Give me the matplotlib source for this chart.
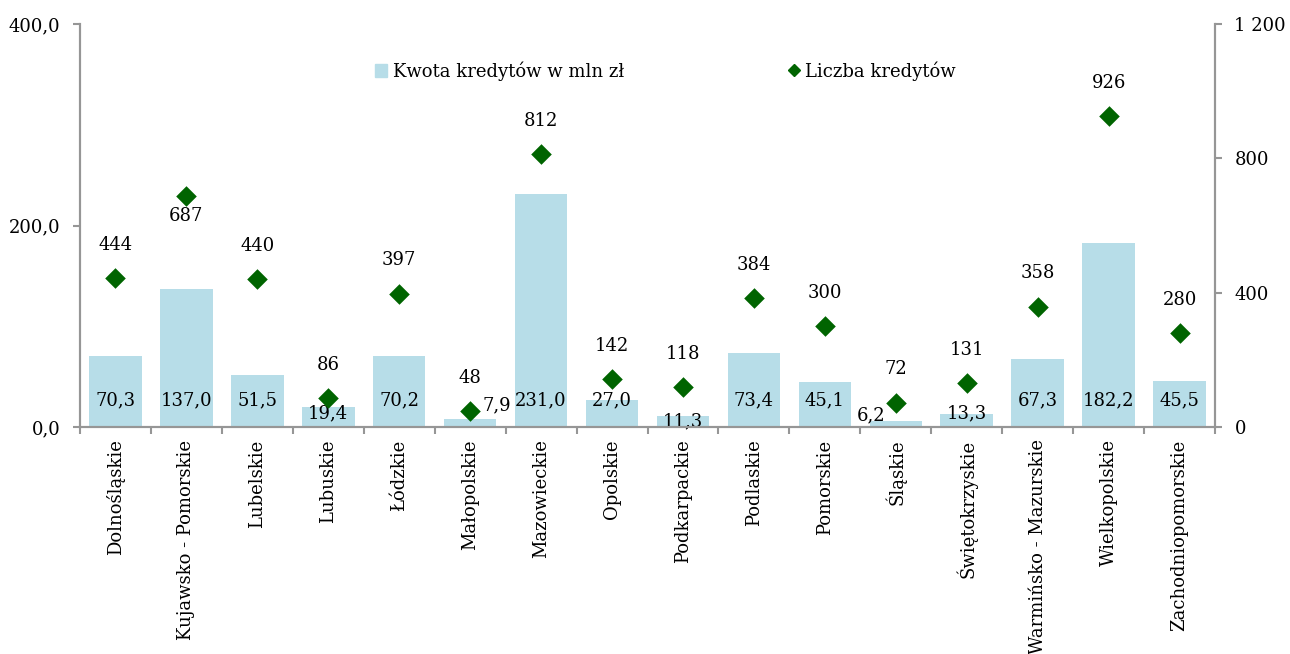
import numpy as np
import matplotlib.pyplot as plt
from matplotlib.lines import Line2D
from matplotlib.patches import Patch

plt.rcParams['font.family'] = ['DejaVu Serif']

regions = ['Dolnośląskie', 'Kujawsko - Pomorskie', 'Lubelskie', 'Lubuskie', 'Łódzkie',
           'Małopolskie', 'Mazowieckie', 'Opolskie', 'Podkarpackie', 'Podlaskie',
           'Pomorskie', 'Śląskie', 'Świętokrzyskie', 'Warmińsko - Mazurskie',
           'Wielkopolskie', 'Zachodniopomorskie']
kwota = [70.3, 137.0, 51.5, 19.4, 70.2, 7.9, 231.0, 27.0, 11.3, 73.4,
         45.1, 6.2, 13.3, 67.3, 182.2, 45.5]
liczba = [444, 687, 440, 86, 397, 48, 812, 142, 118, 384,
          300, 72, 131, 358, 926, 280]

bar_color = '#B7DDE8'
dot_color = '#006400'
spine_color = '#969696'

# label shifts (points) for small bars, where Excel moves labels around
lab_dx = {5: 19, 11: -18}
lab_dy = {3: -9.4, 5: -3.6, 8: -15, 11: -11, 12: -9.4}
# count labels placed below the marker
below = {1}

fig = plt.figure(figsize=(12.9, 6.54), dpi=100)
ax = fig.add_axes([80 / 1290, 1 - 427 / 654, 1135 / 1290, 403 / 654])
ax2 = ax.twinx()

x = np.arange(len(regions))
ax.bar(x, kwota, width=0.74, color=bar_color, zorder=1)
ax2.scatter(x, liczba, marker='D', s=110, color=dot_color, zorder=3, linewidths=0)

ax.set_xlim(-0.5, len(regions) - 0.5)
ax.set_ylim(0, 400)
ax2.set_ylim(0, 1200)

ax.set_yticks([0, 200, 400])
ax.set_yticklabels(['0,0', '200,0', '400,0'])
ax2.set_yticks([0, 400, 800, 1200])
ax2.set_yticklabels(['0', '400', '800', '1 200'])

ax.set_xticks(x)
ax.set_xticklabels(regions, rotation=90, fontsize=13)
ax.set_xticks(np.arange(-0.5, len(regions)), minor=True)
ax.tick_params(axis='x', which='major', length=0, pad=9)
ax.tick_params(axis='x', which='minor', length=5, color=spine_color, width=1.5)

for a in (ax, ax2):
    for s in a.spines.values():
        s.set_color(spine_color)
        s.set_linewidth(1.5)
    a.spines['top'].set_visible(False)
    a.tick_params(axis='y', labelsize=13, length=5, color=spine_color, width=1.5, pad=9)

# bar labels near the base
for i, v in enumerate(kwota):
    ax.annotate(f'{v:.1f}'.replace('.', ','), (i, 0),
                xytext=(lab_dx.get(i, 0), 19.4 + lab_dy.get(i, 0)), textcoords='offset points',
                ha='center', va='center', fontsize=13, zorder=4)

# count labels above (or below) the diamonds
for i, v in enumerate(liczba):
    dy = -14 if i in below else 24
    ax2.annotate(str(v), (i, v), xytext=(0, dy), textcoords='offset points',
                 ha='center', va='center', fontsize=13)

handles = [Patch(color=bar_color, label='Kwota kredytów w mln zł'),
           Line2D([], [], marker='D', color=dot_color, linestyle='None', markersize=6,
                  label='Liczba kredytów')]
ax.legend(handles=handles, ncol=2, loc='center', bbox_to_anchor=(0.516, 0.883),
          frameon=False, fontsize=13, columnspacing=9.1, handlelength=0.65,
          handleheight=0.75, handletextpad=0.3)

plt.savefig('out.png', dpi=100)
